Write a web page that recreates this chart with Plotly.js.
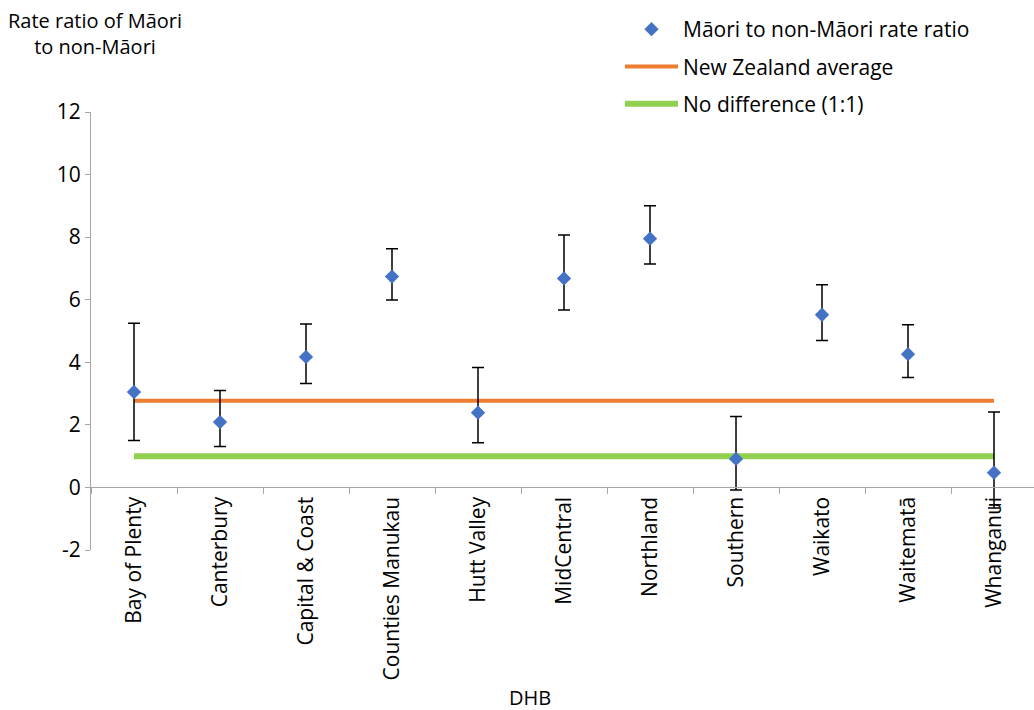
<!DOCTYPE html>
<html>
<head>
<meta charset="utf-8">
<script src="https://cdn.plot.ly/plotly-3.0.1.min.js"></script>
<style>
  html, body { margin: 0; padding: 0; background: #ffffff; }
  #chart { width: 1034px; height: 710px; }
</style>
</head>
<body>
<div id="chart"></div>
<script>
// District Health Boards
const dhbs = [
  'Bay of Plenty', 'Canterbury', 'Capital & Coast', 'Counties Manukau',
  'Hutt Valley', 'MidCentral', 'Northland', 'Southern', 'Waikato',
  'Waitematā', 'Whanganui'
];

// Māori to non-Māori rate ratio with confidence limits
const rateRatio = [3.05, 2.09, 4.17, 6.74, 2.39, 6.68, 7.95, 0.91, 5.52, 4.26, 0.47];
const lowerLimit = [1.50, 1.31, 3.32, 5.99, 1.43, 5.67, 7.14, -0.08, 4.70, 3.51, -0.66];
const upperLimit = [5.25, 3.10, 5.22, 7.63, 3.83, 8.07, 9.00, 2.27, 6.48, 5.20, 2.41];

// Reference lines
const nzAverage = [2.77, 2.77, 2.77, 2.77, 2.77, 2.77, 2.77, 2.77, 2.77, 2.77, 2.77];
const noDifference = [1, 1, 1, 1, 1, 1, 1, 1, 1, 1, 1];

const yTicks = [-2, 0, 2, 4, 6, 8, 10, 12];

const FONT = '"Open Sans", Lato, sans-serif';
const FONT_SIZE = 21;
const AXIS_GREY = '#A6A6A6';

const errPlus = upperLimit.map((u, i) => u - rateRatio[i]);
const errMinus = rateRatio.map((v, i) => v - lowerLimit[i]);

const traces = [
  {
    type: 'scatter', mode: 'lines', name: 'New Zealand average',
    x: dhbs, y: nzAverage,
    line: { color: '#ED7D31', width: 4 },
    legendgroup: 'nz', legendrank: 2, hoverinfo: 'skip'
  },
  {
    type: 'scatter', mode: 'lines', name: 'No difference (1:1)',
    x: dhbs, y: noDifference,
    line: { color: '#92D050', width: 6 },
    legendgroup: 'nodiff', legendrank: 3, hoverinfo: 'skip'
  },
  {
    type: 'scatter', mode: 'markers', name: 'Māori to non-Māori rate ratio',
    x: dhbs, y: rateRatio,
    marker: { symbol: 'diamond', size: 11, color: '#4472C4', line: { width: 0 } },
    error_y: {
      type: 'data', symmetric: false,
      array: errPlus, arrayminus: errMinus,
      color: '#000000', thickness: 1.5, width: 6
    },
    legendgroup: 'ratio', legendrank: 1
  }
];

const layout = {
  width: 1034, height: 710,
  margin: { l: 91, r: 0, t: 112, b: 160, pad: 0 },
  paper_bgcolor: '#ffffff', plot_bgcolor: '#ffffff',
  font: { family: FONT, size: FONT_SIZE, color: '#000000' },
  showlegend: true,
  legend: {
    x: (620 - 91) / 943, xanchor: 'left', y: 1.235, yanchor: 'top',
    bgcolor: 'rgba(0,0,0,0)', borderwidth: 0,
    itemwidth: 53, tracegroupgap: 7,
    font: { family: FONT, size: FONT_SIZE, color: '#000000' }
  },
  xaxis: {
    type: 'category',
    range: [-0.5, 10.465],
    anchor: 'free', position: 2 / 14,
    showline: true, linecolor: AXIS_GREY, linewidth: 1,
    showgrid: false, zeroline: false,
    ticks: 'outside', tickson: 'boundaries', ticklen: 6, tickcolor: AXIS_GREY,
    tickangle: -90,
    tickfont: { family: FONT, size: FONT_SIZE, color: '#000000' }
  },
  yaxis: {
    range: [-2, 12],
    tickvals: yTicks, ticktext: yTicks.map(String),
    showline: true, linecolor: AXIS_GREY, linewidth: 1,
    showgrid: false, zeroline: false,
    ticks: 'outside', ticklen: 5, tickcolor: AXIS_GREY,
    tickfont: { family: FONT, size: FONT_SIZE, color: '#000000' }
  },
  annotations: [
    {
      text: 'Rate ratio of Māori<br>to non-Māori',
      xref: 'paper', yref: 'paper',
      x: (95 - 91) / 943, y: 1.2446, xanchor: 'center', yanchor: 'top',
      align: 'center', showarrow: false,
      font: { family: FONT, size: 20, color: '#000000' }
    },
    {
      text: 'DHB',
      xref: 'paper', yref: 'paper',
      x: (530 - 91) / 943, y: (549.5 - 697) / 437.5, xanchor: 'center', yanchor: 'middle',
      showarrow: false,
      font: { family: FONT, size: 20, color: '#000000' }
    }
  ]
};

Plotly.newPlot('chart', traces, layout, { displayModeBar: false, responsive: false });
</script>
</body>
</html>
